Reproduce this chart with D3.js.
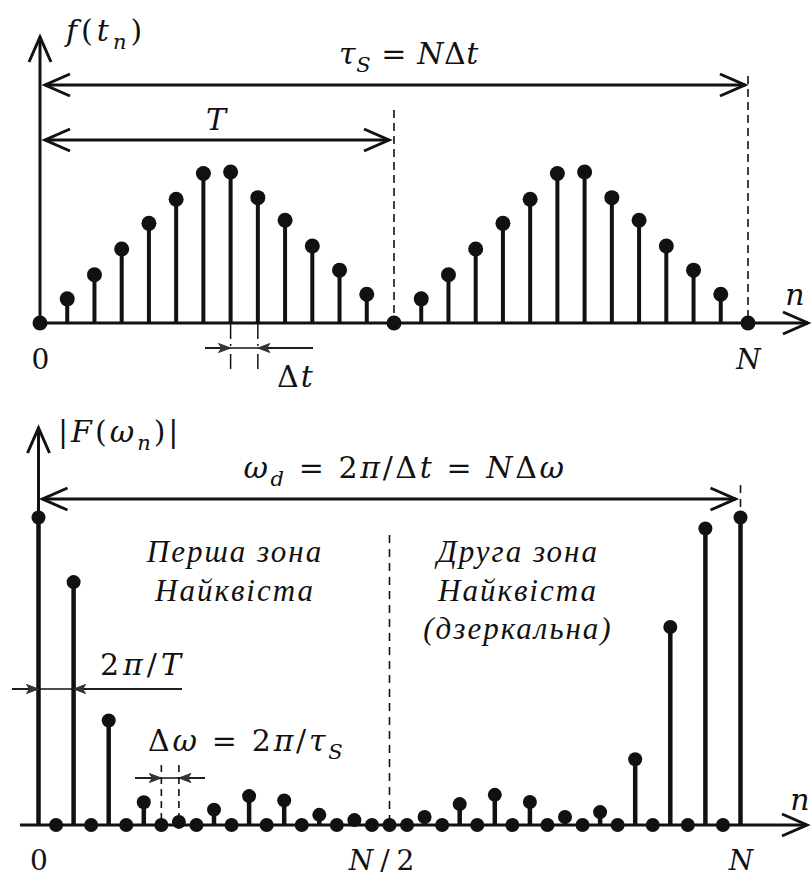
<!DOCTYPE html>
<html>
<head>
<meta charset="utf-8">
<script src="https://cdn.jsdelivr.net/npm/d3@7"></script>
<style>
body { margin: 0; background: #fff; }
svg text { font-family: "DejaVu Serif", serif; fill: #111; }
svg text.zone { font-family: "Liberation Serif", serif; font-style: italic; }
</style>
</head>
<body>
<div id="chart"></div>
<script>
// f(t_n): one period of samples (relative height), repeated twice, N = 26
var periodValues = [0, 0.16, 0.32, 0.49, 0.66, 0.82, 0.99, 1.0, 0.83, 0.68, 0.51, 0.35, 0.19];
var signalN = 26;
var signalValues = periodValues.concat(periodValues, [0]);
var topTicks = [0, 26];
var topTickLabels = ["0", "N"];

// |F(w_n)|: n = 0..40
var spectrumN = 40;
var spectrumValues = [1.0, 0, 0.79, 0, 0.34, 0, 0.074, 0, 0.01, 0, 0.05, 0, 0.094, 0, 0.08, 0,
    0.033, 0, 0.016, 0, 0, 0, 0.026, 0, 0.068, 0, 0.098, 0, 0.075, 0, 0.026, 0, 0.042, 0,
    0.214, 0, 0.644, 0, 0.964, 0, 1.0];
var botTicks = [0, 20, 40];
var botTickLabels = ["0", "N/2", "N"];

var zone1Lines = ["Перша зона", "Найквіста"];
var zone2Lines = ["Друга зона", "Найквіста", "(дзеркальна)"];

var width = 811, height = 876;
var ink = "#111";

var svg = d3.select("#chart").append("svg")
    .attr("width", width)
    .attr("height", height);

var defs = svg.append("defs");
defs.append("marker")
    .attr("id", "arrow")
    .attr("viewBox", "-28 -13 30 26")
    .attr("refX", 0).attr("refY", 0)
    .attr("markerWidth", 30).attr("markerHeight", 26)
    .attr("markerUnits", "userSpaceOnUse")
    .attr("orient", "auto-start-reverse")
    .style("overflow", "visible")
    .append("path")
    .attr("d", "M-25,-11L0,0L-25,11")
    .attr("fill", "none")
    .attr("stroke", ink)
    .attr("stroke-width", 3);

defs.append("marker")
    .attr("id", "small")
    .attr("viewBox", "-14 -6 16 12")
    .attr("refX", 0).attr("refY", 0)
    .attr("markerWidth", 16).attr("markerHeight", 12)
    .attr("markerUnits", "userSpaceOnUse")
    .attr("orient", "auto")
    .style("overflow", "visible")
    .append("path")
    .attr("d", "M-12,-4.5L0,0L-12,4.5L-9,0Z")
    .attr("fill", "#333")
    .attr("stroke", "#333")
    .attr("stroke-width", 1);

// math-like text: letters italic, digits/symbols upright, "_x" = subscript
function mathText(sel, str) {
    var tokens = [];
    for (var i = 0; i < str.length; i++) {
        var c = str[i];
        if (c === "_") { tokens.push({t: str[i + 1], s: "sub"}); i++; continue; }
        var s = /[A-Za-zα-ω]/.test(c) ? "i" : "r";
        var last = tokens[tokens.length - 1];
        if (last && last.s === s) last.t += c; else tokens.push({t: c, s: s});
    }
    var shift = 0;
    tokens.forEach(function (tok) {
        var ts = sel.append("tspan").text(tok.t);
        if (tok.s !== "r") ts.style("font-style", "italic");
        if (tok.s === "sub") {
            ts.attr("dy", 8).style("font-size", "0.7em");
            shift = 8;
        } else if (shift) {
            ts.attr("dy", -shift);
            shift = 0;
        }
    });
    return sel;
}

function label(g, x, y, str, anchor, spacing, size) {
    var t = g.append("text")
        .attr("x", x).attr("y", y)
        .attr("text-anchor", anchor || "start")
        .attr("font-size", size || 30)
        .attr("letter-spacing", spacing || 0)
        .style("white-space", "pre");
    return mathText(t, str);
}

function line(g, x1, y1, x2, y2, w) {
    return g.append("line")
        .attr("x1", x1).attr("y1", y1).attr("x2", x2).attr("y2", y2)
        .attr("stroke", ink)
        .attr("stroke-width", w || 3);
}

function tickLabels(g, labels) {
    g.call(function (a) { a.select(".domain").remove(); })
        .attr("font-family", null)
        .attr("font-size", 28)
        .selectAll(".tick text")
        .attr("fill", ink)
        .each(function (d, i) {
            var t = d3.select(this).text(null);
            mathText(t, labels[i]);
        });
}

// ---------- top: f(t_n) ----------
var xTop = d3.scaleLinear().domain([0, signalN]).range([40, 748]);
var yTop = d3.scaleLinear().domain([0, 1]).range([323, 172]);
var gTop = svg.append("g").attr("class", "top");

line(gTop, xTop(0), yTop(0) + 1.5, xTop(0), 37).attr("marker-end", "url(#arrow)");
line(gTop, xTop(0), yTop(0), 808, yTop(0)).attr("marker-end", "url(#arrow)");

// dashed period marks
line(gTop, xTop(13), 110, xTop(13), yTop(0), 1.6).attr("stroke-dasharray", "8,5");
line(gTop, xTop(signalN), 76, xTop(signalN), yTop(0), 1.6).attr("stroke-dasharray", "8,5");

// tau_S and T double arrows
line(gTop, xTop(0) + 5, 85, xTop(signalN) - 3, 85)
    .attr("marker-start", "url(#arrow)").attr("marker-end", "url(#arrow)");
line(gTop, xTop(0) + 5, 140, xTop(13) - 5, 140)
    .attr("marker-start", "url(#arrow)").attr("marker-end", "url(#arrow)");

gTop.selectAll(".stem")
    .data(signalValues.map(function (v, i) { return {n: i, v: v}; }).filter(function (d) { return d.v > 0; }))
    .enter().append("line")
    .attr("class", "stem")
    .attr("x1", function (d) { return xTop(d.n); })
    .attr("x2", function (d) { return xTop(d.n); })
    .attr("y1", yTop(0))
    .attr("y2", function (d) { return yTop(d.v); })
    .attr("stroke", ink)
    .attr("stroke-width", 4);

gTop.selectAll(".dot")
    .data(signalValues)
    .enter().append("circle")
    .attr("class", "dot")
    .attr("cx", function (d, i) { return xTop(i); })
    .attr("cy", function (d) { return yTop(d); })
    .attr("r", 7.5)
    .attr("fill", ink);

// delta t marker
line(gTop, 205, 348, 313, 348, 1.5);
line(gTop, 205, 348, xTop(7), 348, 1.5).attr("marker-end", "url(#small)");
line(gTop, 313, 348, xTop(8), 348, 1.5).attr("marker-end", "url(#small)");
[7, 8].forEach(function (n) {
    line(gTop, xTop(n), yTop(0), xTop(n), 369, 1.5).attr("stroke-dasharray", "16,5,2,8");
});

gTop.append("g")
    .attr("transform", "translate(0," + yTop(0) + ")")
    .call(d3.axisBottom(xTop).tickValues(topTicks).tickSize(0).tickPadding(26)
        .tickFormat(function (d, i) { return topTickLabels[i]; }))
    .call(tickLabels, topTickLabels);

label(gTop, 66, 41, "f(t_n)", "start", 4);
label(gTop, 409, 64, "τ_S = NΔt", "middle", 0.6);
label(gTop, 216, 130, "T", "middle");
label(gTop, 277, 387, "Δt", "start", 2);
label(gTop, 795, 305, "n", "middle");

// ---------- bottom: |F(w_n)| ----------
var xBot = d3.scaleLinear().domain([0, spectrumN]).range([38.5, 740.5]);
var yBot = d3.scaleLinear().domain([0, 1]).range([825, 517.5]);
var gBot = svg.append("g").attr("class", "bottom");

line(gBot, xBot(0), yBot(0), xBot(0), 428).attr("marker-end", "url(#arrow)");
line(gBot, 20, yBot(0), 807, yBot(0)).attr("marker-end", "url(#arrow)");

line(gBot, xBot(20), 535, xBot(20), yBot(0), 1.6).attr("stroke-dasharray", "8,6");
line(gBot, xBot(spectrumN), 485, xBot(spectrumN), yBot(1), 1.6).attr("stroke-dasharray", "8,6");

line(gBot, xBot(0) + 4, 499, xBot(spectrumN) - 5, 499)
    .attr("marker-start", "url(#arrow)").attr("marker-end", "url(#arrow)");

gBot.selectAll(".stem")
    .data(spectrumValues.map(function (v, i) { return {n: i, v: v}; }).filter(function (d) { return d.v > 0; }))
    .enter().append("line")
    .attr("class", "stem")
    .attr("x1", function (d) { return xBot(d.n); })
    .attr("x2", function (d) { return xBot(d.n); })
    .attr("y1", yBot(0))
    .attr("y2", function (d) { return yBot(d.v); })
    .attr("stroke", ink)
    .attr("stroke-width", 4.5);

gBot.selectAll(".dot")
    .data(spectrumValues)
    .enter().append("circle")
    .attr("class", "dot")
    .attr("cx", function (d, i) { return xBot(i); })
    .attr("cy", function (d) { return yBot(d); })
    .attr("r", 7)
    .attr("fill", ink);

// 2pi/T marker
line(gBot, 12, 689, 182, 689, 1.5);
line(gBot, 12, 689, xBot(0), 689, 1.5).attr("marker-end", "url(#small)");
line(gBot, 182, 689, xBot(2), 689, 1.5).attr("marker-end", "url(#small)");

// delta omega marker
line(gBot, 135, 778, 205, 778, 1.5);
line(gBot, 135, 778, xBot(7), 778, 1.5).attr("marker-end", "url(#small)");
line(gBot, 205, 778, xBot(8), 778, 1.5).attr("marker-end", "url(#small)");
[7, 8].forEach(function (n) {
    line(gBot, xBot(n), 765, xBot(n), yBot(0), 1.6).attr("stroke-dasharray", "7,5");
});

var botAxis = gBot.append("g")
    .attr("transform", "translate(0," + yBot(0) + ")")
    .call(d3.axisBottom(xBot).tickValues(botTicks).tickSize(0).tickPadding(25)
        .tickFormat(function (d, i) { return botTickLabels[i]; }))
    .call(tickLabels, botTickLabels);
botAxis.selectAll(".tick text")
    .filter(function (d) { return d === 20; })
    .attr("letter-spacing", 7)
    .attr("dx", -5);

label(gBot, 58, 442, "|F(ω_n)|", "start", 3);
label(gBot, 405, 478, "ω_d = 2π/Δt = NΔω", "middle", 2.6);
label(gBot, 100, 675, "2π/T", "start", 4);
label(gBot, 148, 751, "Δω = 2π/τ_S", "start", 2.7);
label(gBot, 800, 810, "n", "middle");

function zone(lines, cx) {
    gBot.append("g").selectAll("text")
        .data(lines)
        .enter().append("text")
        .attr("class", "zone")
        .attr("x", cx)
        .attr("y", function (d, i) { return 562 + i * 38.5; })
        .attr("text-anchor", "middle")
        .attr("font-size", 31)
        .attr("letter-spacing", 2)
        .text(function (d) { return d; });
}
zone(zone1Lines, 235);
zone(zone2Lines, 518);
</script>
</body>
</html>
